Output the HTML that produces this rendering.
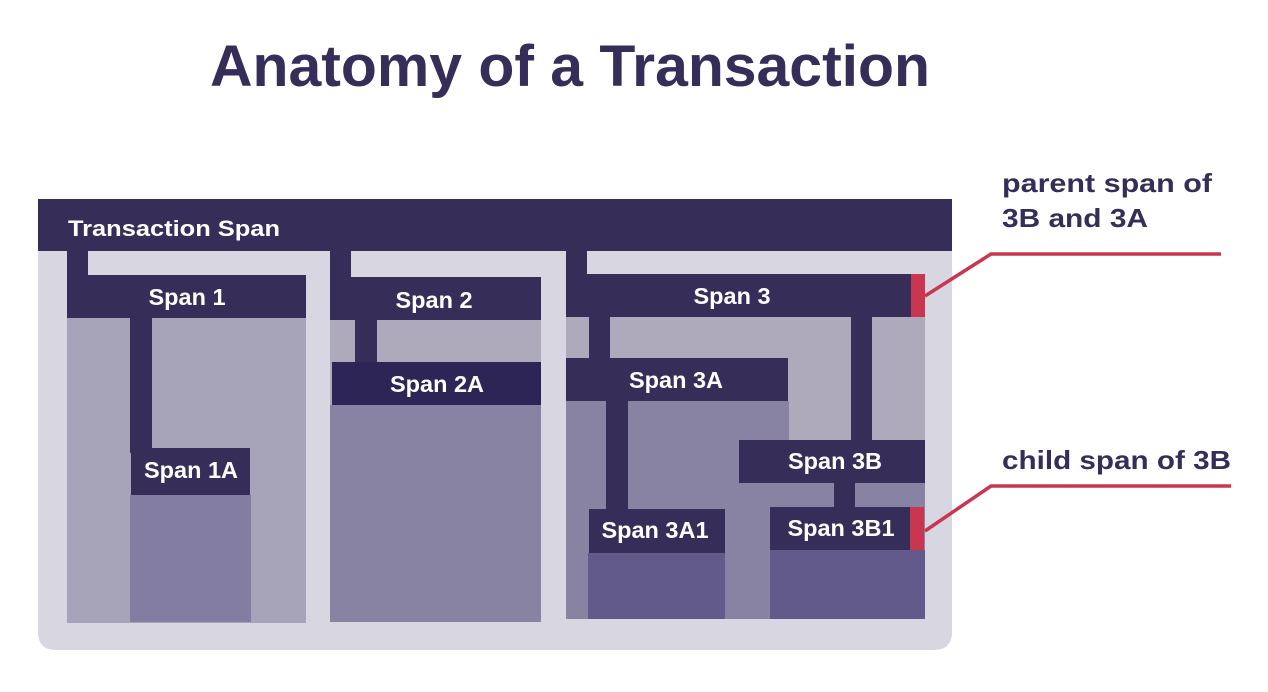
<!DOCTYPE html>
<html><head><meta charset="utf-8"><style>html,body{margin:0;padding:0;background:#fff;}svg{display:block}</style></head>
<body>
<svg width="1268" height="692" viewBox="0 0 1268 692" xmlns="http://www.w3.org/2000/svg" font-family="Liberation Sans, sans-serif" font-weight="bold">
<text x="210" y="86" font-size="58" fill="#362d59" textLength="720" lengthAdjust="spacingAndGlyphs">Anatomy of a Transaction</text>
<path d="M38 220 H952 V632 Q952 650 934 650 H56 Q38 650 38 632 Z" fill="#d8d6e0"/>
<rect x="38" y="199" width="914" height="52" fill="#362d59"/>
<text x="68" y="236" font-size="22" fill="#fff" textLength="212" lengthAdjust="spacingAndGlyphs">Transaction Span</text>
<g font-size="23.5" fill="#fff" text-anchor="middle">
<!-- Span 1 -->
<rect x="67" y="318" width="239" height="305" fill="#a7a4ba"/>
<rect x="130" y="495" width="121" height="127" fill="#837ea1"/>
<rect x="67" y="251" width="21" height="30" fill="#362d59"/>
<rect x="67" y="275" width="239" height="43" fill="#362d59"/>
<text x="187" y="305">Span 1</text>
<rect x="130" y="318" width="22" height="135" fill="#362d59"/>
<rect x="131" y="448" width="119" height="47" fill="#362d59"/>
<text x="191" y="478">Span 1A</text>
<!-- Span 2 -->
<rect x="330" y="320" width="211" height="302" fill="#aeaabc"/>
<rect x="330" y="405" width="211" height="217" fill="#8883a2"/>
<rect x="330" y="251" width="21" height="30" fill="#362d59"/>
<rect x="330" y="277" width="211" height="43" fill="#362d59"/>
<text x="434" y="308">Span 2</text>
<rect x="355" y="320" width="22" height="45" fill="#362d59"/>
<rect x="332" y="362" width="209" height="43" fill="#2e2557"/>
<text x="437" y="392">Span 2A</text>
<!-- Span 3 -->
<rect x="566" y="317" width="359" height="302" fill="#aeaabc"/>
<rect x="566" y="401" width="223" height="218" fill="#8883a2"/>
<rect x="739" y="483" width="186" height="136" fill="#8883a2"/>
<rect x="588" y="553" width="137" height="66" fill="#625a8b"/>
<rect x="770" y="550" width="155" height="69" fill="#625a8b"/>
<rect x="566" y="250" width="21" height="30" fill="#362d59"/>
<rect x="566" y="274" width="345" height="43" fill="#362d59"/>
<rect x="911" y="274" width="14" height="43" fill="#c8364f"/>
<text x="732" y="304">Span 3</text>
<rect x="589" y="317" width="21" height="44" fill="#362d59"/>
<rect x="566" y="358" width="222" height="43" fill="#362d59"/>
<text x="676" y="388">Span 3A</text>
<rect x="851" y="317" width="21" height="126" fill="#362d59"/>
<rect x="739" y="440" width="186" height="43" fill="#362d59"/>
<text x="835" y="469">Span 3B</text>
<rect x="606" y="401" width="22" height="111" fill="#362d59"/>
<rect x="589" y="509" width="136" height="44" fill="#362d59"/>
<text x="655" y="538">Span 3A1</text>
<rect x="834" y="483" width="21" height="27" fill="#362d59"/>
<rect x="770" y="507" width="140" height="43" fill="#362d59"/>
<rect x="910" y="507" width="14" height="43" fill="#c8364f"/>
<text x="841" y="536">Span 3B1</text>
</g>
<!-- callouts -->
<polyline points="925,296 991,254 1221,254" fill="none" stroke="#c8364f" stroke-width="3.5"/>
<polyline points="925,531 991,486 1231,486" fill="none" stroke="#c8364f" stroke-width="3.5"/>
<text x="1002" y="192" font-size="26" fill="#362d59" textLength="210" lengthAdjust="spacingAndGlyphs">parent span of</text>
<text x="1002" y="227" font-size="26" fill="#362d59" textLength="146" lengthAdjust="spacingAndGlyphs">3B and 3A</text>
<text x="1002" y="469" font-size="26" fill="#362d59" textLength="229" lengthAdjust="spacingAndGlyphs">child span of 3B</text>
</svg>
</body></html>
